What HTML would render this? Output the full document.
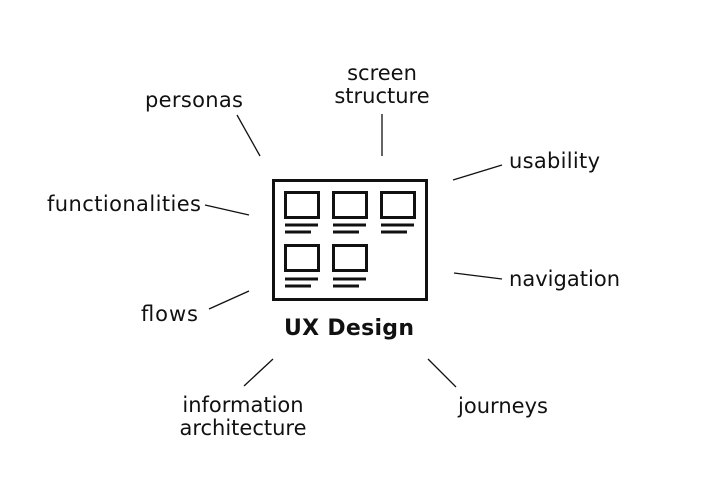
<!DOCTYPE html>
<html><head><meta charset="utf-8"><style>
body{margin:0;background:#fff}
svg{display:block}
text{font-family:"DejaVu Sans",sans-serif;font-size:21px;fill:#111}
</style></head><body>
<svg width="701" height="501" viewBox="0 0 701 501">
<g stroke="#111" stroke-width="1.3" fill="none">
<line x1="237" y1="115" x2="260" y2="156"/>
<line x1="382" y1="114" x2="382" y2="156"/>
<line x1="502" y1="165" x2="453" y2="180"/>
<line x1="205" y1="205" x2="249" y2="215"/>
<line x1="454" y1="273" x2="502" y2="279"/>
<line x1="209" y1="309" x2="249" y2="291"/>
<line x1="244" y1="386" x2="273" y2="359"/>
<line x1="456" y1="387" x2="428" y2="359"/>
</g>
<g stroke="#111" stroke-width="3" fill="none">
<rect x="273.5" y="180.5" width="153" height="119"/>
<rect x="285.5" y="192.5" width="33" height="25"/>
<rect x="333.5" y="192.5" width="33" height="25"/>
<rect x="381.5" y="192.5" width="33" height="25"/>
<rect x="285.5" y="245.5" width="33" height="25"/>
<rect x="333.5" y="245.5" width="33" height="25"/>
<path d="M285 225H318M285 232H311M333 225H366M333 232H359M381 225H414M381 232H407M285 279H318M285 286H311M333 279H366M333 286H359"/>
</g>
<text x="349" y="335" text-anchor="middle" textLength="130" style="font-weight:bold;font-size:22px">UX Design</text>
<text x="145" y="107" textLength="98">personas</text>
<text x="382" y="80" text-anchor="middle">screen</text>
<text x="382" y="103" text-anchor="middle">structure</text>
<text x="509" y="168" textLength="91">usability</text>
<text x="47" y="211" textLength="154">functionalities</text>
<text x="509" y="286" textLength="111">navigation</text>
<text x="141" y="321" textLength="57">flows</text>
<text x="243" y="412" text-anchor="middle">information</text>
<text x="243" y="435" text-anchor="middle">architecture</text>
<text x="458" y="413" textLength="90">journeys</text>
</svg>
</body></html>
